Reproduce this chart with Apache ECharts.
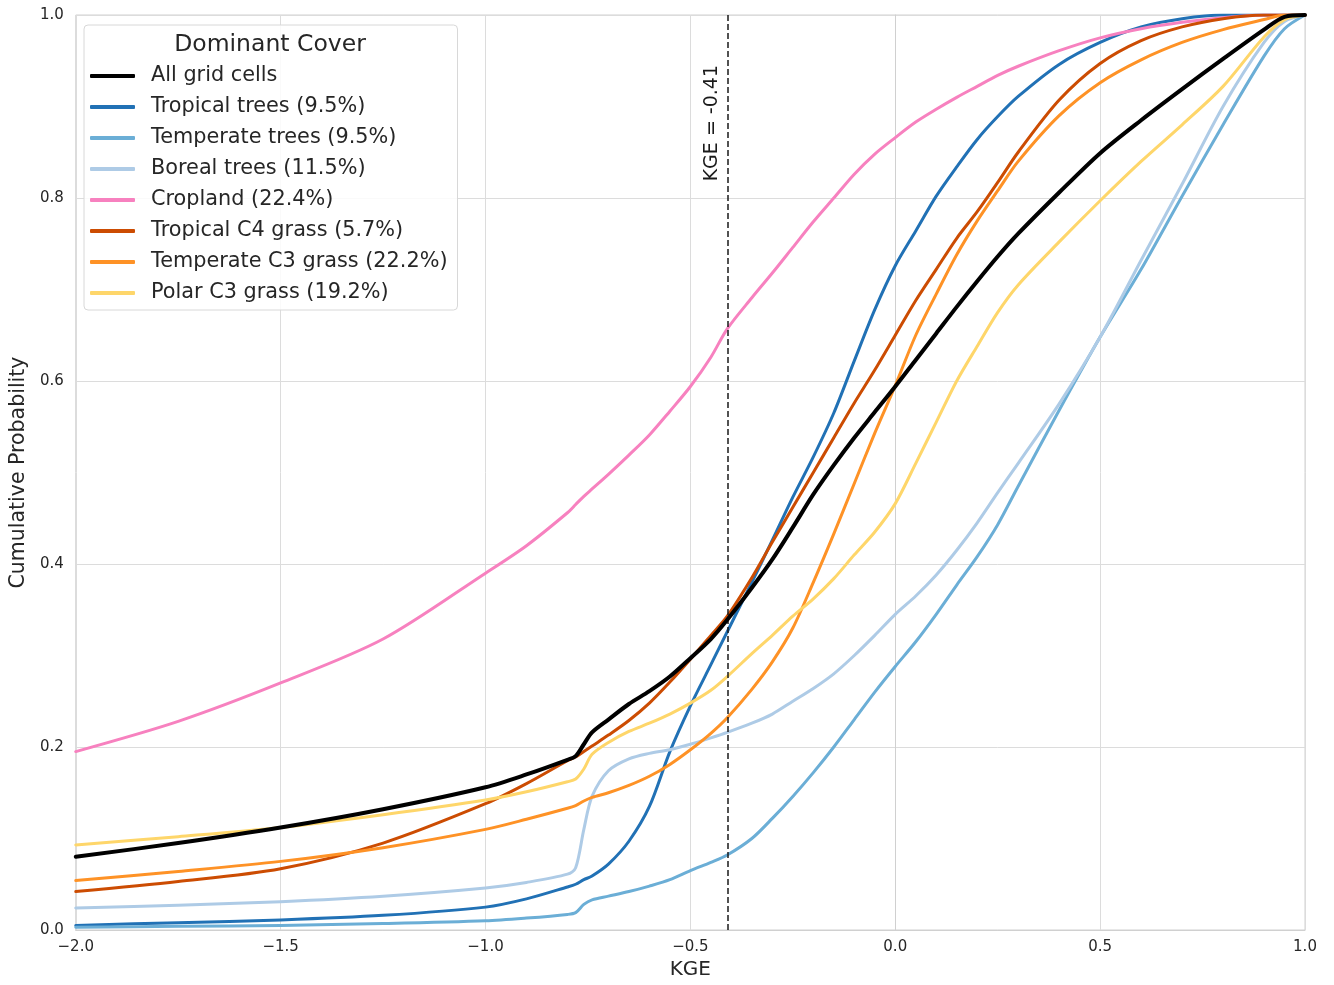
<!DOCTYPE html>
<html>
<head>
<meta charset="utf-8">
<script src="https://cdn.jsdelivr.net/npm/echarts@6/dist/echarts.min.js"></script>
<style>
  html, body { margin: 0; padding: 0; background: #fff; }
  #chart { width: 1334px; height: 985px; }
</style>
</head>
<body>
<div id="chart"></div>
<script>
// KGE sample positions (x)
const kge = [-2.0, -1.75, -1.5, -1.25, -1.0, -0.9, -0.8, -0.78, -0.76, -0.74, -0.7, -0.65, -0.6, -0.55, -0.5, -0.45, -0.41,
  -0.35, -0.3, -0.25, -0.2, -0.15, -0.1, -0.05, 0.0, 0.05, 0.1, 0.15, 0.2, 0.25, 0.3, 0.4, 0.5, 0.6, 0.7, 0.8, 0.9, 0.95, 1.0];

const allCells = [0.080, 0.095, 0.112, 0.132, 0.156, 0.170, 0.186, 0.190, 0.203, 0.216, 0.230, 0.247, 0.261, 0.277, 0.297, 0.318, 0.339,
  0.374, 0.405, 0.440, 0.476, 0.508, 0.538, 0.566, 0.594, 0.623, 0.652, 0.681, 0.709, 0.736, 0.761, 0.806, 0.849, 0.885, 0.919, 0.952, 0.984, 0.998, 1.0];

const tropicalTrees = [0.005, 0.008, 0.011, 0.016, 0.025, 0.034, 0.047, 0.050, 0.055, 0.059, 0.072, 0.097, 0.135, 0.195, 0.245, 0.290, 0.326,
  0.380, 0.426, 0.473, 0.517, 0.565, 0.622, 0.678, 0.726, 0.764, 0.802, 0.834, 0.864, 0.889, 0.911, 0.946, 0.970, 0.987, 0.996, 1.0, 1.0, 1.0, 1.0];

const temperateTrees = [0.003, 0.004, 0.005, 0.007, 0.010, 0.013, 0.017, 0.019, 0.028, 0.033, 0.037, 0.042, 0.048, 0.055, 0.065, 0.074, 0.082,
  0.100, 0.122, 0.146, 0.172, 0.200, 0.230, 0.260, 0.288, 0.315, 0.345, 0.377, 0.408, 0.443, 0.485, 0.568, 0.648, 0.722, 0.802, 0.880, 0.955, 0.985, 1.0];

const borealTrees = [0.024, 0.027, 0.031, 0.037, 0.046, 0.052, 0.061, 0.068, 0.110, 0.146, 0.174, 0.187, 0.193, 0.197, 0.203, 0.210, 0.216,
  0.226, 0.236, 0.250, 0.264, 0.280, 0.300, 0.322, 0.345, 0.365, 0.388, 0.415, 0.445, 0.478, 0.510, 0.575, 0.648, 0.732, 0.815, 0.900, 0.970, 0.993, 1.0];

const cropland = [0.195, 0.228, 0.270, 0.318, 0.390, 0.420, 0.456, 0.465, 0.474, 0.482, 0.498, 0.519, 0.541, 0.567, 0.594, 0.626, 0.657,
  0.691, 0.718, 0.746, 0.774, 0.800, 0.826, 0.848, 0.866, 0.883, 0.897, 0.910, 0.922, 0.934, 0.944, 0.961, 0.975, 0.985, 0.992, 0.997, 1.0, 1.0, 1.0];

const tropicalC4 = [0.042, 0.053, 0.067, 0.095, 0.138, 0.160, 0.185, 0.189, 0.195, 0.201, 0.213, 0.229, 0.248, 0.271, 0.296, 0.322, 0.343,
  0.385, 0.424, 0.462, 0.500, 0.538, 0.576, 0.612, 0.650, 0.688, 0.722, 0.756, 0.785, 0.817, 0.850, 0.907, 0.947, 0.972, 0.987, 0.996, 1.0, 1.0, 1.0];

const temperateC3 = [0.054, 0.064, 0.075, 0.090, 0.110, 0.121, 0.133, 0.136, 0.141, 0.145, 0.150, 0.158, 0.168, 0.181, 0.197, 0.215, 0.232,
  0.263, 0.293, 0.330, 0.380, 0.433, 0.488, 0.543, 0.595, 0.650, 0.695, 0.738, 0.775, 0.808, 0.840, 0.890, 0.926, 0.951, 0.970, 0.984, 0.995, 1.0, 1.0];

const polarC3 = [0.093, 0.102, 0.112, 0.126, 0.142, 0.151, 0.162, 0.165, 0.176, 0.192, 0.205, 0.217, 0.226, 0.236, 0.248, 0.262, 0.277,
  0.302, 0.322, 0.343, 0.362, 0.384, 0.410, 0.435, 0.466, 0.510, 0.555, 0.600, 0.638, 0.675, 0.705, 0.752, 0.797, 0.840, 0.880, 0.922, 0.976, 0.995, 1.0];

const seriesNames = ['All grid cells', 'Tropical trees (9.5%)', 'Temperate trees (9.5%)', 'Boreal trees (11.5%)',
  'Cropland (22.4%)', 'Tropical C4 grass (5.7%)', 'Temperate C3 grass (22.2%)', 'Polar C3 grass (19.2%)'];
const seriesValues = [allCells, tropicalTrees, temperateTrees, borealTrees, cropland, tropicalC4, temperateC3, polarC3];
const seriesColors = ['#000000', '#2171b5', '#6baed6', '#aecbe6', '#f781bf', '#cc4c02', '#fe9226', '#fed66a'];

const kgeThreshold = -0.41;

const font = 'DejaVu Sans';
const fmtMinus = v => v.toFixed(1).replace('-', '\u2212');

const series = seriesNames.map((name, i) => {
  const s = {
    name: name,
    type: 'line',
    data: kge.map((x, j) => [x, seriesValues[i][j]]),
    smooth: 0.3,
    symbol: 'none',
    showSymbol: false,
    z: i === 0 ? 5 : 3,
    lineStyle: { color: seriesColors[i], width: i === 0 ? 4 : 3, cap: 'round', join: 'round' },
    itemStyle: { color: seriesColors[i] },
    animation: false
  };
  if (i === 0) {
    s.markLine = {
      silent: true,
      symbol: 'none',
      animation: false,
      lineStyle: { color: '#1a1a1a', type: [6, 3], width: 1.5 },
      label: {
        show: true,
        formatter: 'KGE = ' + kgeThreshold.toFixed(2),
        position: 'insideEndTop',
        distance: [50, 6],
        color: '#1a1a1a',
        fontFamily: font,
        fontSize: 19
      },
      data: [{ xAxis: kgeThreshold }]
    };
  }
  return s;
});

const chart = echarts.init(document.getElementById('chart'), null, { renderer: 'canvas' });
chart.setOption({
  backgroundColor: '#ffffff',
  animation: false,
  textStyle: { fontFamily: font },
  title: {
    text: 'Dominant Cover',
    left: 265,
    top: 28,
    textAlign: 'center',
    textStyle: { fontFamily: font, fontSize: 23.5, fontWeight: 'normal', color: '#262626' }
  },
  legend: {
    orient: 'vertical',
    left: 84,
    top: 25,
    padding: [40, 10, 6, 6],
    itemGap: 9,
    itemWidth: 45,
    itemHeight: 4,
    icon: 'roundRect',
    backgroundColor: 'rgba(255,255,255,0.85)',
    borderColor: '#d8d8d8',
    borderWidth: 1,
    borderRadius: 4,
    data: seriesNames,
    textStyle: { fontFamily: font, fontSize: 20.8, color: '#262626', lineHeight: 22, padding: [0, 0, 0, 11] }
  },
  grid: { left: 73, right: 29, top: 15, bottom: 55, show: true, borderColor: '#d0d0d0', borderWidth: 1 },
  xAxis: {
    type: 'value',
    min: -2.0,
    max: 1.0,
    interval: 0.5,
    name: 'KGE',
    nameLocation: 'middle',
    nameGap: 30,
    nameTextStyle: { fontFamily: font, fontSize: 20, color: '#262626' },
    axisLine: { show: true, lineStyle: { color: '#d0d0d0' } },
    axisTick: { show: false },
    axisLabel: { formatter: fmtMinus, fontFamily: font, fontSize: 15, color: '#262626', margin: 10 },
    splitLine: { show: true, lineStyle: { color: '#dcdcdc', width: 1 } }
  },
  yAxis: {
    type: 'value',
    min: 0,
    max: 1.0,
    interval: 0.2,
    name: 'Cumulative Probability',
    nameLocation: 'middle',
    nameGap: 40,
    nameTextStyle: { fontFamily: font, fontSize: 20.5, color: '#262626' },
    axisLine: { show: true, lineStyle: { color: '#d0d0d0' } },
    axisTick: { show: false },
    axisLabel: { formatter: v => v.toFixed(1), fontFamily: font, fontSize: 15, color: '#262626', margin: 12 },
    splitLine: { show: true, lineStyle: { color: '#dcdcdc', width: 1 } }
  },
  series: series
});
</script>
</body>
</html>
